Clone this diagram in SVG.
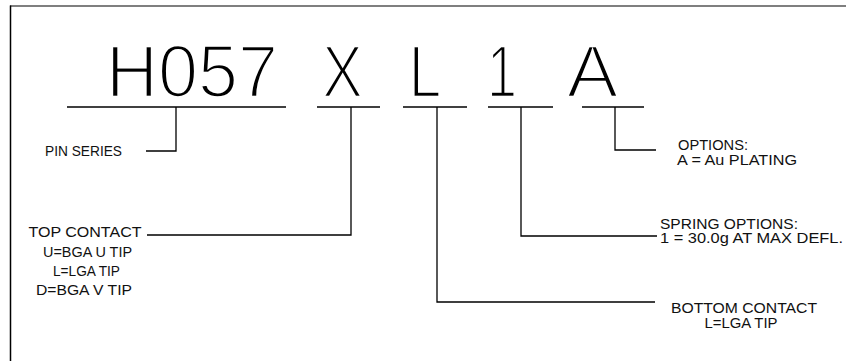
<svg xmlns="http://www.w3.org/2000/svg" width="846" height="361" viewBox="0 0 846 361">
<style>
.big{font-family:"Liberation Sans",Arial,sans-serif;font-size:75px;fill:#000;stroke:#fff;stroke-width:2.6;paint-order:fill stroke}
.lbl{font-family:"Liberation Sans",Arial,sans-serif;font-size:15.5px;fill:#111}
.ln{fill:none;stroke:#000;stroke-width:1.3}
</style>
<rect width="846" height="361" fill="#fff"/>
<g id="frame">
<line x1="10" y1="6" x2="846" y2="6" stroke="#555" stroke-width="1.6"/>
<line x1="10.5" y1="5.5" x2="10.5" y2="361" stroke="#000" stroke-width="1.5"/>
</g>
<g id="code">
<text class="big" x="192" y="97" text-anchor="middle" textLength="172" lengthAdjust="spacingAndGlyphs">H057</text>
<text class="big" transform="translate(342.5,97) scale(0.82,1)" text-anchor="middle">X</text>
<text class="big" transform="translate(425,97) scale(0.78,1)" text-anchor="middle">L</text>
<text class="big" transform="translate(502,97) scale(0.72,1)" text-anchor="middle">1</text>
<text class="big" transform="translate(592.5,97) scale(1.03,1)" text-anchor="middle">A</text>
</g>
<g id="connectors">
<line class="ln" x1="67" y1="107" x2="286" y2="107"/>
<line class="ln" x1="317" y1="107" x2="380" y2="107"/>
<line class="ln" x1="403" y1="107" x2="467" y2="107"/>
<line class="ln" x1="488" y1="107" x2="553" y2="107"/>
<line class="ln" x1="582" y1="107" x2="644" y2="107"/>
<path class="ln" d="M176 107 V151 H146"/>
<path class="ln" d="M351 107 V235 H147"/>
<path class="ln" d="M437 107 V302 H655"/>
<path class="ln" d="M521 107 V236 H657"/>
<path class="ln" d="M615 107 V150 H656"/>
</g>
<g id="pin-series">
<text class="lbl" x="45" y="156" textLength="77" lengthAdjust="spacingAndGlyphs">PIN SERIES</text>
</g>
<g id="top-contact" text-anchor="middle">
<text class="lbl" x="85" y="237" textLength="113" lengthAdjust="spacingAndGlyphs">TOP CONTACT</text>
<text class="lbl" x="87.5" y="257" textLength="89" lengthAdjust="spacingAndGlyphs">U=BGA U TIP</text>
<text class="lbl" x="86.5" y="276" textLength="67" lengthAdjust="spacingAndGlyphs">L=LGA TIP</text>
<text class="lbl" x="84" y="295" textLength="96" lengthAdjust="spacingAndGlyphs">D=BGA V TIP</text>
</g>
<g id="options">
<text class="lbl" x="678" y="150" textLength="70" lengthAdjust="spacingAndGlyphs">OPTIONS:</text>
<text class="lbl" x="677" y="165" textLength="120" lengthAdjust="spacingAndGlyphs">A = Au PLATING</text>
</g>
<g id="spring-options">
<text class="lbl" x="660" y="229" textLength="138" lengthAdjust="spacingAndGlyphs">SPRING OPTIONS:</text>
<text class="lbl" x="660" y="243" textLength="183" lengthAdjust="spacingAndGlyphs">1 = 30.0g AT MAX DEFL.</text>
</g>
<g id="bottom-contact" text-anchor="middle">
<text class="lbl" x="744" y="313" textLength="146" lengthAdjust="spacingAndGlyphs">BOTTOM CONTACT</text>
<text class="lbl" x="741" y="328" textLength="73" lengthAdjust="spacingAndGlyphs">L=LGA TIP</text>
</g>
</svg>
